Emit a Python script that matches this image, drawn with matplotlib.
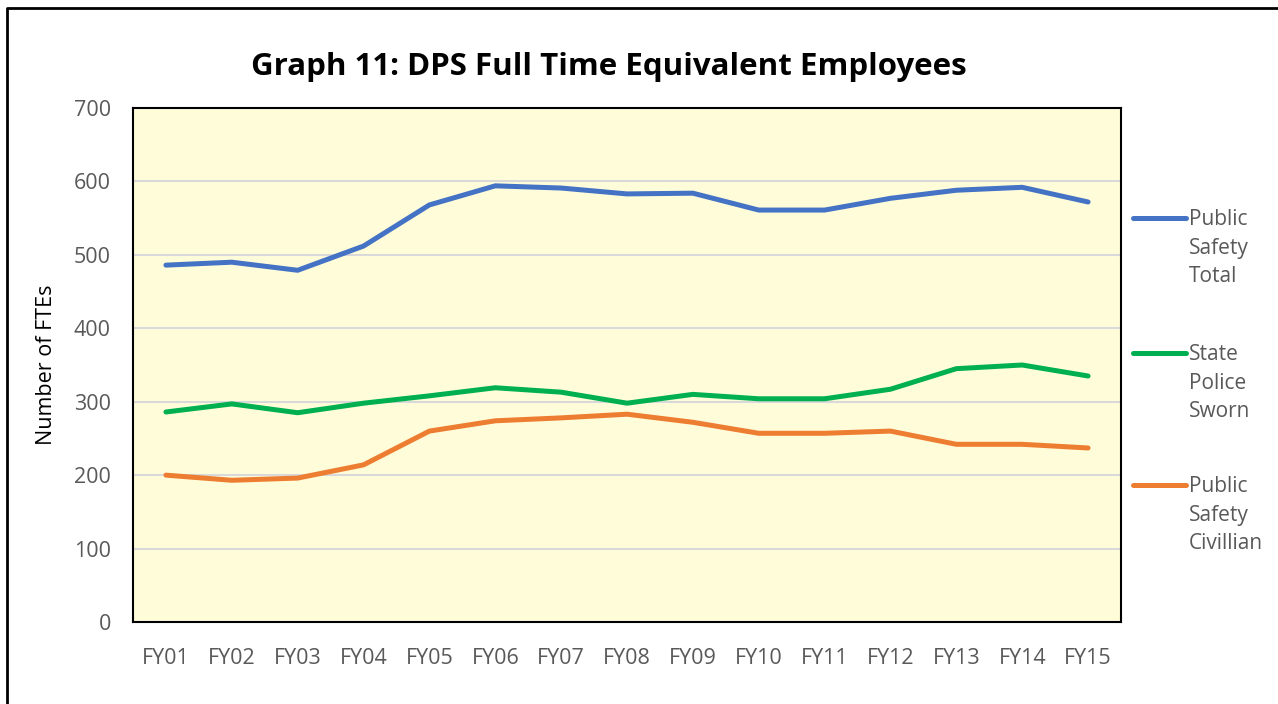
import matplotlib.pyplot as plt
from matplotlib.lines import Line2D

plt.rcParams["font.family"] = ["Open Sans", "DejaVu Sans"]

YEARS = ["FY01", "FY02", "FY03", "FY04", "FY05", "FY06", "FY07", "FY08",
         "FY09", "FY10", "FY11", "FY12", "FY13", "FY14", "FY15"]
TOTAL = [486, 490, 479, 512, 568, 594, 591, 583, 584, 561, 561, 577, 588, 592, 572]
SWORN = [286, 297, 285, 298, 308, 319, 313, 298, 310, 304, 304, 317, 345, 350, 335]
CIVILIAN = [200, 193, 196, 214, 260, 274, 278, 283, 272, 257, 257, 260, 242, 242, 237]

SERIES = [
    ("Public\nSafety\nTotal", TOTAL, "#4472C4"),
    ("State\nPolice\nSworn", SWORN, "#00B050"),
    ("Public\nSafety\nCivillian", CIVILIAN, "#ED7D31"),
]

W, H = 1278, 704
fig = plt.figure(figsize=(W / 100, H / 100), dpi=100)
ax = fig.add_axes([133 / W, 1 - 622 / H, (1121 - 133) / W, (622 - 108) / H])
ax.set_facecolor("#FFFDD9")

x = list(range(len(YEARS)))
for label, vals, color in SERIES:
    ax.plot(x, vals, color=color, lw=3.6, solid_capstyle="round",
            solid_joinstyle="round")

ax.set_xlim(-0.5, len(YEARS) - 0.5)
ax.set_ylim(0, 700)
ax.set_yticks(range(0, 701, 100))
ax.set_xticks(x)
ax.set_xticklabels(YEARS)
ax.tick_params(axis="both", length=0, labelsize=15.5, labelcolor="#595959")
ax.tick_params(axis="x", pad=19)
ax.tick_params(axis="y", pad=16)
ax.yaxis.grid(True, color="#D9D9D9", lw=1.5)
ax.set_axisbelow(True)
for sp in ax.spines.values():
    sp.set_color("black")
    sp.set_linewidth(1.5)
ax.set_ylabel("Number of FTEs", fontsize=15.5, color="black", labelpad=12)

fig.text(609 / W, 1 - 67 / H, "Graph 11: DPS Full Time Equivalent Employees",
         ha="center", va="center", fontsize=22.5, fontweight="bold")

# legend drawn by hand to keep handles on the first label line
for (label, vals, color), ly in zip(SERIES, [218, 353, 485]):
    fig.add_artist(Line2D([1133 / W, 1186 / W], [1 - ly / H, 1 - ly / H],
                          color=color, lw=3.6, solid_capstyle="round"))
    fig.text(1189 / W, 1 - (ly - 9) / H, label, ha="left", va="top",
             fontsize=15, color="#595959", linespacing=1.48)

# outer frame (left and top edges)
fig.add_artist(Line2D([7 / W, 7 / W, 1], [0, 1 - 8 / H, 1 - 8 / H],
                      color="black", lw=2))

fig.savefig("out.png", dpi=100)
